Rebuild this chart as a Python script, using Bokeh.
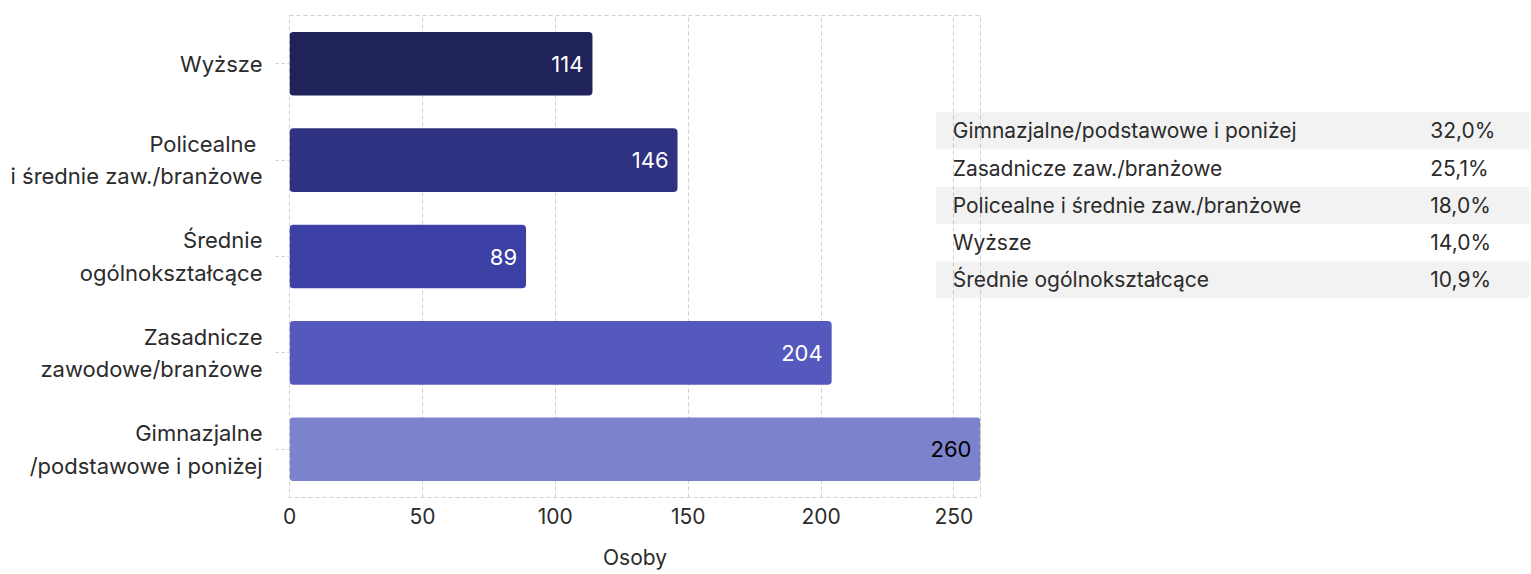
from bokeh.plotting import figure
from bokeh.models import FactorRange, Range1d, FixedTicker, ColumnDataSource
from bokeh.layouts import row
from bokeh.core.properties import value
from bokeh.embed import file_html
from bokeh.resources import INLINE

# ---- data ----
categories = ["Wyższe", "Policealne \ni średnie zaw./branżowe", "Średnie\nogólnokształcące",
              "Zasadnicze\nzawodowe/branżowe", "Gimnazjalne\n/podstawowe i poniżej"]
counts = [114, 146, 89, 204, 260]
bar_colors = ["#1f2359", "#2e3280", "#3c40a5", "#5559bd", "#7c82cb"]
x_ticks = [0, 50, 100, 150, 200, 250]
x_title = "Osoby"

table_labels = ["Gimnazjalne/podstawowe i poniżej", "Zasadnicze zaw./branżowe",
                "Policealne i średnie zaw./branżowe", "Wyższe", "Średnie ogólnokształcące"]
table_shares = ["32,0%", "25,1%", "18,0%", "14,0%", "10,9%"]

FONT = "Inter"
TXT = "#2b2b2b"
H = 574

def lum(h):
    r, g, b = int(h[1:3], 16), int(h[3:5], 16), int(h[5:7], 16)
    return 0.299 * r + 0.587 * g + 0.114 * b

label_colors = ["#ffffff" if lum(c) < 120 else "#000000" for c in bar_colors]

src = ColumnDataSource(dict(cat=categories, cnt=counts, col=bar_colors,
                            lab=[str(v) for v in counts], lcol=label_colors))

p = figure(width=982, height=H,
           y_range=FactorRange(factors=list(reversed(categories)), range_padding=0),
           x_range=Range1d(0, 260),
           output_backend="svg", toolbar_location=None,
           min_border_left=289, min_border_right=2, min_border_top=15, min_border_bottom=77)

p.hbar(y="cat", left=0, right="cnt", height=0.66, fill_color="col", line_color=None,
       border_radius=4, source=src)
p.text(x="cnt", y="cat", text="lab", text_color="lcol", x_offset=-9,
       text_align="right", text_baseline="middle", text_font=value(FONT),
       text_font_size="22px", source=src)

p.outline_line_color = "#cfcfcf"
p.outline_line_dash = "4 3"
p.xgrid.grid_line_color = "#cfcfcf"
p.xgrid.grid_line_dash = "4 3"
p.ygrid.grid_line_color = None
p.xaxis.ticker = FixedTicker(ticks=x_ticks)
p.xaxis.minor_tick_line_color = None
p.xaxis.major_tick_out = 0
p.xaxis.major_tick_in = 0
p.xaxis.axis_line_color = None
p.xaxis.major_label_standoff = 10
p.xaxis.axis_label = x_title
p.xaxis.axis_label_standoff = 18
p.xaxis.axis_label_text_font_style = "normal"
p.xaxis.axis_label_text_font = FONT
p.xaxis.axis_label_text_font_size = "21px"
p.xaxis.axis_label_text_color = TXT
p.yaxis.axis_line_color = None
p.yaxis.major_tick_out = 14
p.yaxis.major_tick_in = 0
p.yaxis.major_tick_line_color = "#cccccc"
p.yaxis.major_tick_line_dash = "3 3"
p.yaxis.major_label_standoff = 13
p.yaxis.major_label_text_line_height = 1.25
p.xaxis.major_label_text_font_size = "21px"
p.yaxis.major_label_text_font_size = "22px"
for ax in (p.xaxis, p.yaxis):
    ax.major_label_text_font = FONT
    ax.major_label_text_color = TXT

# ---- table ----
rows = list(range(len(table_labels)))
tsrc = ColumnDataSource(dict(row=rows, lab=table_labels, share=table_shares,
                             alpha=[0.05 if i % 2 == 0 else 0.0 for i in rows]))
t = figure(width=594, height=H,
           y_range=Range1d(9.85, -3.1),
           x_range=Range1d(0, 1),
           output_backend="svg", toolbar_location=None,
           x_axis_location=None, y_axis_location=None,
           min_border_left=0, min_border_right=0, min_border_top=15, min_border_bottom=77)
t.hbar(y="row", left=0, right=1, height=1, fill_color="#000000", fill_alpha="alpha",
       line_color=None, source=tsrc)
t.text(x=0.029, y="row", text="lab", text_align="left", text_baseline="middle",
       text_font=value(FONT), text_font_size="21px", text_color=TXT, source=tsrc)
t.text(x=0.833, y="row", text="share", text_align="left", text_baseline="middle",
       text_font=value(FONT), text_font_size="21px", text_color=TXT, source=tsrc)
t.grid.visible = False
t.outline_line_color = None
t.background_fill_alpha = 0
t.border_fill_alpha = 0
t.styles = {"margin-left": "-47px"}

layout = row(p, t)
open("out.html", "w").write(file_html(layout, INLINE))
